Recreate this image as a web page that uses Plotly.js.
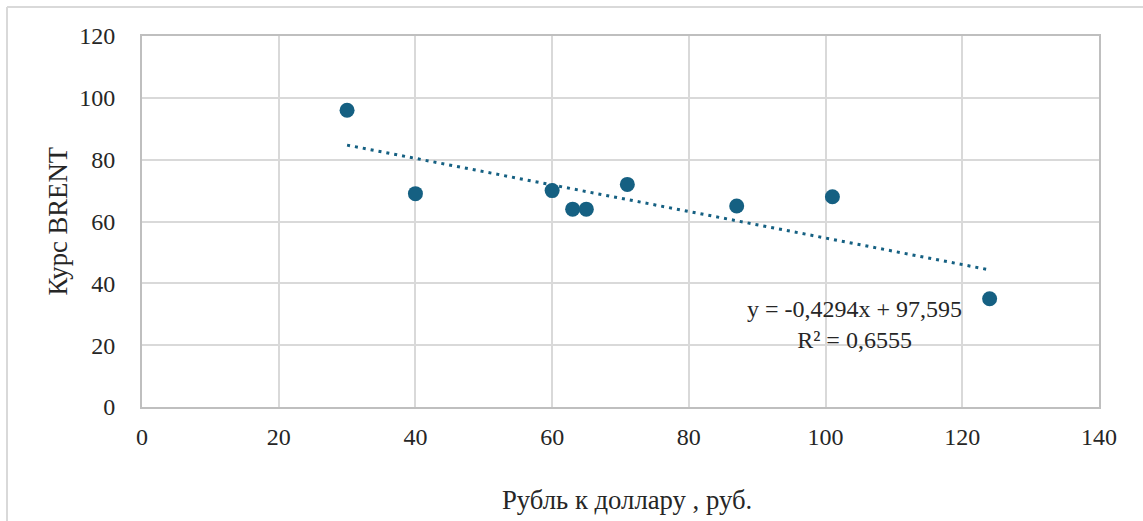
<!DOCTYPE html>
<html>
<head>
<meta charset="utf-8">
<script src="https://cdn.plot.ly/plotly-3.0.1.min.js"></script>
<style>html,body{margin:0;padding:0;background:#fff;}#chart{width:1143px;height:521px;}</style>
</head>
<body>
<div id="chart"></div>
<script>
const rubPerUsd = [30.0, 40.0, 60.0, 63.0, 65.0, 71.0, 87.0, 101.0, 124.0];
const brent = [96, 69, 70, 64, 64, 72, 65, 68, 35];
const trendSlope = -0.4294;
const trendIntercept = 97.595;
const rSquared = "0,6555";
const xTicks = [0, 20, 40, 60, 80, 100, 120, 140];
const yTicks = [0, 20, 40, 60, 80, 100, 120];
const xTitle = 'Рубль к доллару , руб.';
const yTitle = 'Курс BRENT';

const xMin = Math.min(...rubPerUsd), xMax = Math.max(...rubPerUsd);
const trendX = [xMin, xMax];
const trendY = trendX.map(v => trendSlope * v + trendIntercept);

const fmt = v => String(v).replace('.', ',');
const eqText = 'y = ' + fmt(trendSlope) + 'x + ' + fmt(trendIntercept) + '<br>R² = ' + rSquared;

const W = 1143, H = 521, L = 142, R = 44, T = 36, B = 114;
const pw = W - L - R, ph = H - T - B;
const px = x => (x - L) / pw;
const py = y => 1 - (y - T) / ph;
const family = '"Liberation Serif", "Times New Roman", serif';
const font = {family: family, size: 24, color: '#262626'};
const titleFont = {family: family, size: 26.7, color: '#262626'};

const data = [
  {x: trendX, y: trendY, type: 'scatter', mode: 'lines',
   line: {color: '#156082', width: 3, dash: '3px,5px'}, hoverinfo: 'skip', showlegend: false},
  {x: rubPerUsd, y: brent, type: 'scatter', mode: 'markers',
   marker: {color: '#156082', size: 15}, showlegend: false}
];

const layout = {
  width: W, height: H,
  margin: {l: L, r: R, t: T, b: B, pad: 0},
  paper_bgcolor: '#fff', plot_bgcolor: '#fff',
  font: font,
  xaxis: {range: [0, 140], tickvals: xTicks, ticktext: xTicks.map(String),
    showgrid: true, gridcolor: '#d9d9d9', gridwidth: 2,
    showline: true, linecolor: '#bfbfbf', linewidth: 2, mirror: true,
    zeroline: false, ticks: '', ticklabelstandoff: 7, tickfont: font,
    title: {text: ''}, automargin: false},
  yaxis: {range: [0, 120], tickvals: yTicks, ticktext: yTicks.map(String),
    showgrid: true, gridcolor: '#d9d9d9', gridwidth: 2,
    showline: true, linecolor: '#bfbfbf', linewidth: 2, mirror: true,
    zeroline: false, ticks: '', ticklabelstandoff: 20, tickfont: font,
    title: {text: ''}, automargin: false},
  annotations: [
    {x: 104.2, y: 26.8, xref: 'x', yref: 'y', text: eqText, showarrow: false,
     align: 'center', font: font},
    {x: px(627), y: py(500), xref: 'paper', yref: 'paper', text: xTitle,
     showarrow: false, font: titleFont, xanchor: 'center', yanchor: 'middle'},
    {x: px(57), y: py(221.5), xref: 'paper', yref: 'paper', text: yTitle, textangle: -90,
     showarrow: false, font: titleFont, xanchor: 'center', yanchor: 'middle'}
  ],
  shapes: [
    {type: 'line', xref: 'paper', yref: 'paper', x0: px(7), x1: px(7), y0: py(540), y1: py(7),
     line: {color: '#d9d9d9', width: 2}},
    {type: 'line', xref: 'paper', yref: 'paper', x0: px(7), x1: px(1160), y0: py(7), y1: py(7),
     line: {color: '#d9d9d9', width: 2}}
  ]
};
Plotly.newPlot('chart', data, layout, {displayModeBar: false, staticPlot: true});
</script>
</body>
</html>
